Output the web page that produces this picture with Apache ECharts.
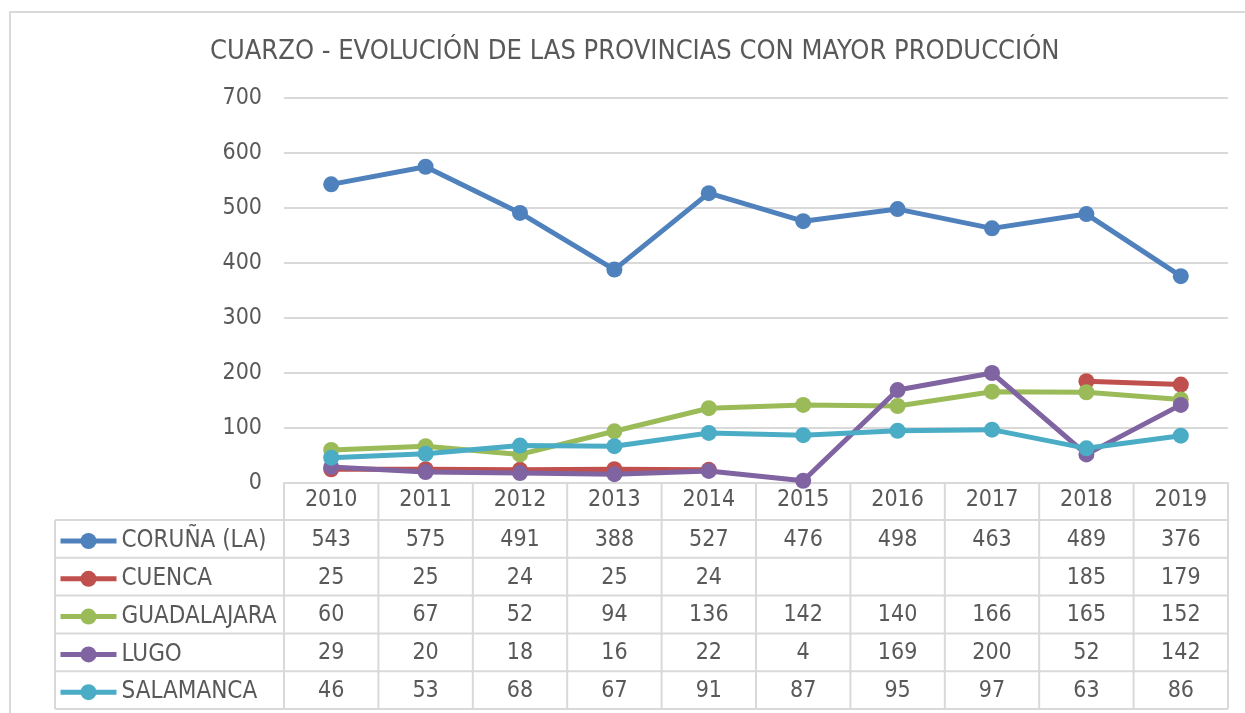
<!DOCTYPE html>
<html>
<head>
<meta charset="utf-8">
<script src="https://cdn.jsdelivr.net/npm/echarts@6/dist/echarts.min.js"></script>
<style>
  html, body { margin: 0; padding: 0; background: #fff; }
  #main { width: 1245px; height: 713px; }
</style>
</head>
<body>
<div id="main"></div>
<script>
// data
const years = ['2010', '2011', '2012', '2013', '2014', '2015', '2016', '2017', '2018', '2019']
const coruna = [543, 575, 491, 388, 527, 476, 498, 463, 489, 376]
const cuenca = [25, 25, 24, 25, 24, null, null, null, 185, 179]
const guadalajara = [60, 67, 52, 94, 136, 142, 140, 166, 165, 152]
const lugo = [29, 20, 18, 16, 22, 4, 169, 200, 52, 142]
const salamanca = [46, 53, 68, 67, 91, 87, 95, 97, 63, 86]
const seriesNames = ['CORUÑA (LA)', 'CUENCA', 'GUADALAJARA', 'LUGO', 'SALAMANCA']
const seriesColors = ['#4F81BD', '#C0504D', '#9BBB59', '#8064A2', '#4BACC6']
const yTicks = [0, 100, 200, 300, 400, 500, 600, 700]

const allValues = [coruna, cuenca, guadalajara, lugo, salamanca]
const FONT = '"DejaVu Sans Condensed", "DejaVu Sans", sans-serif'
const TEXT = '#595959'
const LINE = '#D9D9D9'

const chartDom = document.getElementById('main')
const myChart = echarts.init(chartDom)

// table geometry (rows under the plot)
const headerH = 37
const rowH = 37.8
const labelLeft = 55

const option = {
  animation: false,
  backgroundColor: '#fff',
  title: {
    text: 'CUARZO - EVOLUCIÓN DE LAS PROVINCIAS CON MAYOR PRODUCCIÓN',
    left: 205,
    top: 33,
    textStyle: { fontFamily: FONT, fontSize: 27, fontWeight: 'normal', color: TEXT }
  },
  legend: seriesNames.map((name, i) => ({
    data: [name],
    left: labelLeft - 2,
    top: 483 + headerH + i * rowH + 4,
    itemWidth: 56,
    itemHeight: 20,
    itemGap: 0,
    padding: 5,
    selectedMode: false,
    lineStyle: { width: 5 },
    textStyle: { fontFamily: FONT, fontSize: 24, color: TEXT }
  })),
  grid: { left: 284, right: 17, top: 98, bottom: 230, containLabel: false },
  xAxis: {
    type: 'category',
    data: years,
    boundaryGap: true,
    axisLine: { show: true, lineStyle: { color: LINE, width: 2 } },
    axisTick: { show: false },
    axisLabel: { margin: 6, fontFamily: FONT, fontSize: 23, color: TEXT }
  },
  yAxis: {
    type: 'value',
    min: yTicks[0],
    max: yTicks[yTicks.length - 1],
    interval: 100,
    axisLine: { show: false },
    axisTick: { show: false },
    splitLine: { lineStyle: { color: LINE, width: 2 } },
    axisLabel: { margin: 22, fontFamily: FONT, fontSize: 23, color: TEXT }
  },
  series: seriesNames.map((name, i) => ({
    name: name,
    type: 'line',
    data: allValues[i],
    connectNulls: false,
    symbol: 'circle',
    symbolSize: 16,
    lineStyle: { width: 5, color: seriesColors[i] },
    itemStyle: { color: seriesColors[i] }
  }))
}

option && myChart.setOption(option)

// build the data table from the axis positions
const xs = years.map((y, i) => myChart.convertToPixel({ xAxisIndex: 0 }, i))
const colW = xs[1] - xs[0]
const tableLeft = xs[0] - colW / 2
const tableRight = xs[xs.length - 1] + colW / 2
const top0 = myChart.convertToPixel({ yAxisIndex: 0 }, 0)
const bodyTop = top0 + headerH
const bodyBottom = bodyTop + seriesNames.length * rowH

const graphics = []
// outer chart frame
graphics.push({
  type: 'rect',
  shape: { x: 10, y: 12, width: 1260, height: 720 },
  style: { fill: null, stroke: LINE, lineWidth: 2 },
  silent: true
})
// horizontal lines
for (let r = 0; r <= seriesNames.length; r++) {
  const y = bodyTop + r * rowH
  graphics.push({
    type: 'line',
    shape: { x1: labelLeft, y1: y, x2: tableRight, y2: y },
    style: { stroke: LINE, lineWidth: 2 },
    silent: true
  })
}
// vertical lines
graphics.push({
  type: 'line',
  shape: { x1: labelLeft, y1: bodyTop, x2: labelLeft, y2: bodyBottom },
  style: { stroke: LINE, lineWidth: 2 },
  silent: true
})
for (let c = 0; c <= years.length; c++) {
  const x = tableLeft + c * colW
  graphics.push({
    type: 'line',
    shape: { x1: x, y1: top0, x2: x, y2: bodyBottom },
    style: { stroke: LINE, lineWidth: 2 },
    silent: true
  })
}
// cell values
allValues.forEach((vals, r) => {
  vals.forEach((v, c) => {
    if (v === null) return
    graphics.push({
      type: 'text',
      x: xs[c],
      y: bodyTop + r * rowH + rowH / 2 + 1,
      style: {
        text: String(v),
        fill: TEXT,
        font: '23px ' + FONT,
        align: 'center',
        verticalAlign: 'middle'
      },
      silent: true
    })
  })
})

myChart.setOption({ graphic: graphics })
</script>
</body>
</html>
